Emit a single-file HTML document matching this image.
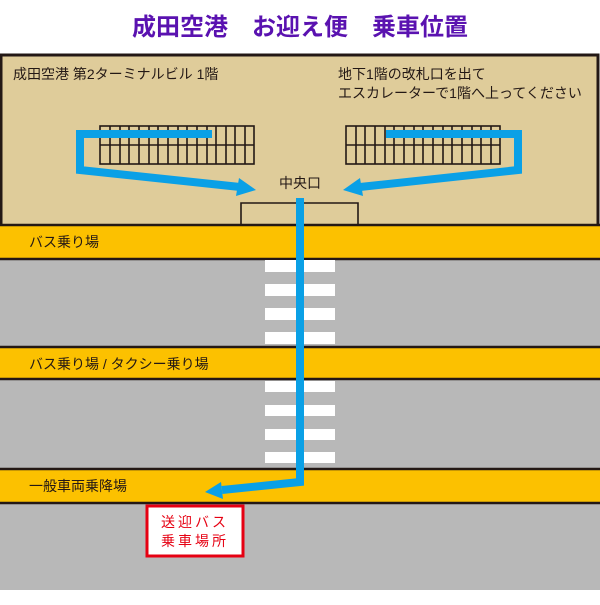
<!DOCTYPE html>
<html><head><meta charset="utf-8"><style>
html,body{margin:0;padding:0;background:#fff;}
svg text{font-family:"Liberation Sans","Noto Sans CJK JP",sans-serif;}
</style></head><body>
<svg width="600" height="600" viewBox="0 0 600 600" xmlns="http://www.w3.org/2000/svg">
<rect width="600" height="600" fill="#fff"/>
<text x="300" y="35" font-size="24" font-weight="bold" fill="#5a12b0" text-anchor="middle" style="font-family:'Noto Sans CJK JP',sans-serif">成田空港　お迎え便　乗車位置</text>
<!-- building -->
<rect x="1" y="55" width="597" height="172" fill="#dfcc9a" stroke="#231815" stroke-width="3"/>
<text x="13" y="79" font-size="14" fill="#231815">成田空港 第2ターミナルビル 1階</text>
<text x="338" y="79" font-size="14" fill="#231815">地下1階の改札口を出て</text>
<text x="338" y="98" font-size="14" fill="#231815">エスカレーターで1階へ上ってください</text>
<!-- escalators -->
<g stroke="#231815" stroke-width="1.6" fill="none">
<rect x="100" y="126" width="154" height="38"/>
<line x1="100" y1="145" x2="254" y2="145"/>
<rect x="346" y="126" width="154" height="38"/>
<line x1="346" y1="145" x2="500" y2="145"/>
</g>
<g stroke="#231815" stroke-width="1.6">
<line x1="110" y1="126" x2="110" y2="164"/><line x1="120" y1="126" x2="120" y2="164"/><line x1="129" y1="126" x2="129" y2="164"/><line x1="139" y1="126" x2="139" y2="164"/><line x1="149" y1="126" x2="149" y2="164"/><line x1="158" y1="126" x2="158" y2="164"/><line x1="168" y1="126" x2="168" y2="164"/><line x1="178" y1="126" x2="178" y2="164"/><line x1="187" y1="126" x2="187" y2="164"/><line x1="197" y1="126" x2="197" y2="164"/><line x1="207" y1="126" x2="207" y2="164"/><line x1="216" y1="126" x2="216" y2="164"/><line x1="226" y1="126" x2="226" y2="164"/><line x1="235" y1="126" x2="235" y2="164"/><line x1="245" y1="126" x2="245" y2="164"/>
<line x1="356" y1="126" x2="356" y2="164"/><line x1="365" y1="126" x2="365" y2="164"/><line x1="375" y1="126" x2="375" y2="164"/><line x1="385" y1="126" x2="385" y2="164"/><line x1="394" y1="126" x2="394" y2="164"/><line x1="404" y1="126" x2="404" y2="164"/><line x1="414" y1="126" x2="414" y2="164"/><line x1="423" y1="126" x2="423" y2="164"/><line x1="433" y1="126" x2="433" y2="164"/><line x1="443" y1="126" x2="443" y2="164"/><line x1="452" y1="126" x2="452" y2="164"/><line x1="462" y1="126" x2="462" y2="164"/><line x1="472" y1="126" x2="472" y2="164"/><line x1="481" y1="126" x2="481" y2="164"/><line x1="491" y1="126" x2="491" y2="164"/>
</g>
<text x="300" y="188" font-size="14" fill="#231815" text-anchor="middle">中央口</text>
<path d="M241 226 V203 H358 V226" fill="none" stroke="#231815" stroke-width="1.6"/>
<!-- roads -->
<rect x="0" y="259" width="600" height="88" fill="#b8b8b8"/>
<rect x="0" y="379" width="600" height="90" fill="#b8b8b8"/>
<rect x="0" y="503" width="600" height="87" fill="#b8b8b8"/>
<g fill="#fcc100" stroke="#231815" stroke-width="2.5">
<rect x="-2" y="225" width="604" height="34"/>
<rect x="-2" y="347" width="604" height="32"/>
<rect x="-2" y="469" width="604" height="34"/>
</g>
<g font-size="14" fill="#231815">
<text x="29" y="247">バス乗り場</text>
<text x="29" y="369">バス乗り場 / タクシー乗り場</text>
<text x="29" y="491">一般車両乗降場</text>
</g>
<g fill="#fff">
<rect x="265" y="260" width="70" height="12"/><rect x="265" y="284" width="70" height="12"/><rect x="265" y="308" width="70" height="12"/><rect x="265" y="332" width="70" height="12"/>
<rect x="265" y="381" width="70" height="11"/><rect x="265" y="405" width="70" height="11"/><rect x="265" y="429" width="70" height="11"/><rect x="265" y="452" width="70" height="11"/>
</g>
<!-- blue arrows -->
<g fill="none" stroke="#0aa0e6" stroke-width="8">
<path d="M212 134 H80 V170 L240 187"/>
<path d="M386 134 H518 V170 L360 187"/>
<path d="M300 198 V482 L222 490"/>
</g>
<g fill="#0aa0e6">
<polygon points="256,190 239,178 236,196"/>
<polygon points="343,190 360,178 363,196"/>
<polygon points="205,492 221,482 223,499"/>
</g>
<!-- red box -->
<rect x="147" y="506" width="96" height="50" fill="#fff" stroke="#e60012" stroke-width="3"/>
<text x="195" y="527" font-size="14" fill="#e60012" text-anchor="middle" letter-spacing="3">送迎バス</text>
<text x="195" y="546" font-size="14" fill="#e60012" text-anchor="middle" letter-spacing="3">乗車場所</text>
</svg>
</body></html>
